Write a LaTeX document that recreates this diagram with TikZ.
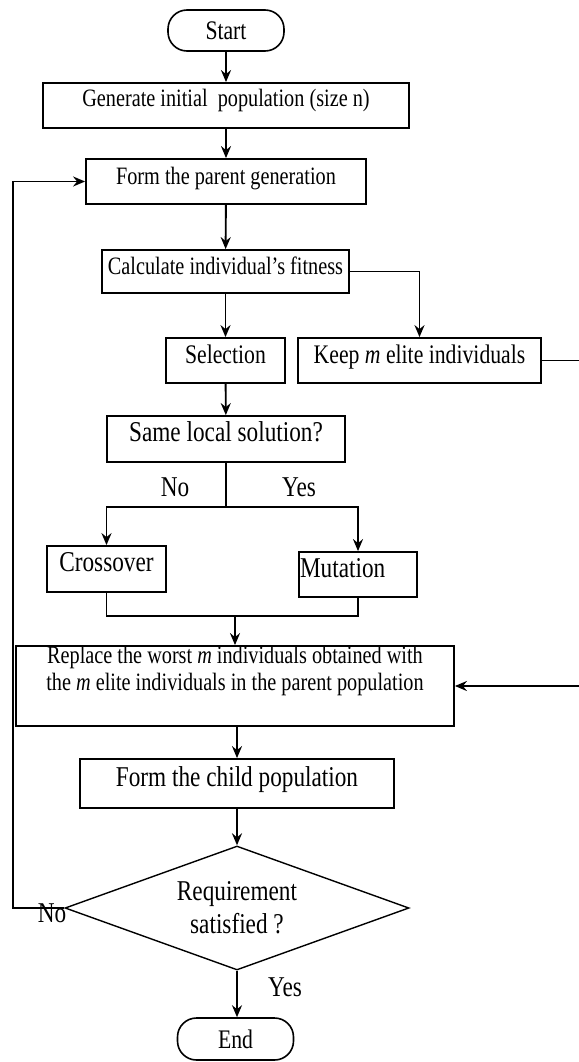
\documentclass[tikz,border=0pt]{standalone}
\usepackage{fontspec}
\setmainfont[FakeStretch=0.81]{Liberation Serif}
\usetikzlibrary{arrows.meta,shapes.geometric}
\begin{document}
\begin{tikzpicture}[x=1pt,y=-1pt,
  font=\fontsize{25}{27}\selectfont,
  med/.style={font=\fontsize{26.8}{29}\selectfont},
  big/.style={font=\fontsize{28.7}{31}\selectfont},
  box/.style={draw,line width=1.8pt,inner sep=0pt,text height=17pt,text depth=11pt},
  tbox/.style={draw,line width=1.8pt,inner sep=0pt,align=center},
  term/.style={draw,line width=1.6pt,rounded corners=19pt,inner sep=0pt},
  arr/.style={line width=1.9pt,-{Stealth[length=12pt,width=10pt,inset=4pt]}},
  ln/.style={line width=1.9pt},
  lbl/.style={inner sep=0pt,big}]
\fill[white] (0,0) rectangle (578,1062);
\useasboundingbox (0,0) rectangle (578,1062);

\node[term,med,minimum width=116pt,minimum height=41pt] (start) at (226,30.5) {Start};
\node[box,minimum width=366pt,minimum height=45pt,text depth=14pt] (gen) at (226,105.5) {Generate initial\ \ population (size n)};
\node[box,minimum width=280pt,minimum height=45pt] (parent) at (226,181.5) {Form the parent generation};
\node[box,minimum width=247pt,minimum height=43pt] (calc) at (225.5,271.5) {Calculate individual’s\ fitness};
\node[box,med,minimum width=119pt,minimum height=45pt,text height=18pt,text depth=12pt] (sel) at (225.5,360.5) {Selection};
\node[box,med,minimum width=243pt,minimum height=45pt,text height=18pt,text depth=12pt] (keep) at (419.5,360.5) {Keep \textit{m} elite individuals};
\node[box,big,minimum width=238pt,minimum height=46pt,text height=19pt,text depth=14pt] (same) at (226,439) {Same local solution?};
\node[box,big,minimum width=119pt,minimum height=46pt,text height=19pt,text depth=14pt] (cross) at (106.5,569) {Crossover};
\node[box,big,text width=116pt,inner xsep=1pt,align=left,minimum height=45pt,text height=19pt,text depth=14pt] (mut) at (358,574.5) {Mutation};
\node[tbox,minimum width=438pt,minimum height=80pt] (repl) at (235,686) {Replace the worst \textit{m} individuals obtained with\\the \textit{m} elite individuals in the parent population\\\strut};
\node[box,big,minimum width=314pt,minimum height=49pt,text height=19pt,text depth=14pt] (child) at (237,783.5) {Form the child population};
\node[diamond,draw,line width=1.4pt,inner sep=0pt,shape aspect=2.8,minimum width=344pt,minimum height=124pt,align=center,font=\fontsize{28.7}{33}\selectfont] (dia) at (237,908) {Requirement\\satisfied ?};
\node[term,med,minimum width=116pt,minimum height=42pt] (end) at (235.5,1039) {End};

\node[lbl] (lno) at (175,487) {No};
\node[lbl] (lyes) at (299,487) {Yes};
\node[lbl] (lno2) at (52,913) {No};
\node[lbl] (lyes2) at (285,987) {Yes};

\coordinate (br) at (226,507);
\coordinate (mg) at (235,616);
\coordinate (lp) at (13,908);

\draw[arr] (start) -- (gen);
\draw[arr] (gen) -- (parent);
\draw[arr] (parent) -- (calc);
\draw[arr] (calc) -- (sel);
\draw[arr] (calc.east) -| (keep.north);
\draw[arr] (sel) -- (same);
\draw[ln] (same.south) -- (br);
\draw[arr] (br) -| (cross.north);
\draw[arr] (br) -| (mut.north);
\draw[ln] (cross.south) |- (mg);
\draw[ln] (mut.south) |- (mg);
\draw[arr] (mg) -- (mg |- repl.north);
\draw[arr] (child.north |- repl.south) -- (child.north);
\draw[arr] (child) -- (dia);
\draw[arr] (dia.south) -- (dia.south |- end.north);
\draw[arr] (keep.east) -- ++(50,0) |- (repl.east);
\draw[arr] (dia.west) -- (lp) |- (parent.west);
\end{tikzpicture}
\end{document}
